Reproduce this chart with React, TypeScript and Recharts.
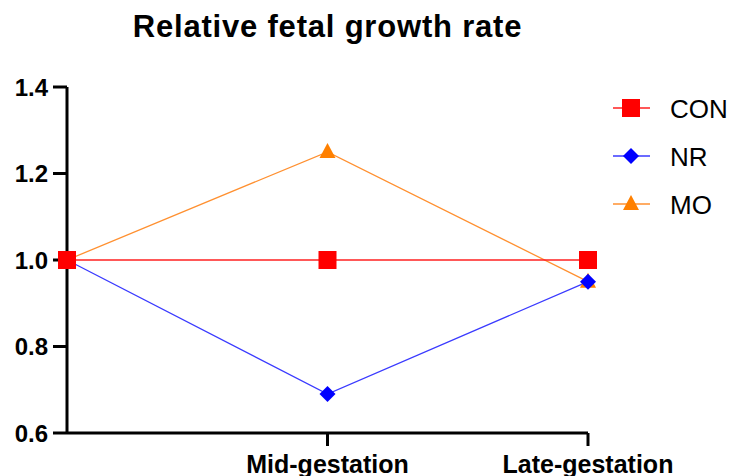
import React from 'react';
import { LineChart, Line, XAxis, YAxis } from 'recharts';

const categories = ['', 'Mid-gestation', 'Late-gestation'];
const conValues = [1.0, 1.0, 1.0];
const nrValues = [1.0, 0.69, 0.95];
const moValues = [1.0, 1.25, 0.95];
const yTicks = [0.6, 0.8, 1.0, 1.2, 1.4];

const FONT = 'Liberation Sans, Arial, sans-serif';

const seriesInfo = [
    { key: 'CON', color: '#ff0000', lineColor: '#ff2020', shape: 'square' },
    { key: 'NR', color: '#0000ff', lineColor: '#3a3aff', shape: 'diamond' },
    { key: 'MO', color: '#ff8000', lineColor: '#ff9030', shape: 'triangle' },
];

const data = categories.map((name, i) => ({
    x: i,
    name,
    CON: conValues[i],
    NR: nrValues[i],
    MO: moValues[i],
}));

const Marker = ({ cx, cy, shape, color }: { cx: number, cy: number, shape: string, color: string }) => {
    if (shape === 'square') {
        return <rect x={cx - 9} y={cy - 9} width={18} height={18} fill={color} />;
    }
    if (shape === 'diamond') {
        return <polygon points={`${cx},${cy - 8} ${cx + 8},${cy} ${cx},${cy + 8} ${cx - 8},${cy}`} fill={color} />;
    }
    return <polygon points={`${cx},${cy - 9} ${cx + 8},${cy + 6} ${cx - 8},${cy + 6}`} fill={color} />;
};

const makeDot = (shape: string, color: string) => (props: any) => {
    const { cx, cy, index } = props;
    if (cx == null || cy == null) return <g key={index} />;
    return <Marker key={index} cx={cx} cy={cy} shape={shape} color={color} />;
};

// legend drawn by hand so it doesn't eat into the plot area
const LegendBox = () => (
    <svg width={131} height={140} style={{ position: 'absolute', left: 600, top: 90 }}>
        {seriesInfo.map((s, i) => {
            const y = 18 + i * 48;
            return (
                <g key={s.key}>
                    <line x1={13} x2={50} y1={y} y2={y} stroke={s.lineColor} strokeWidth={1.5} />
                    <Marker cx={31} cy={y} shape={s.shape} color={s.color} />
                    <text x={70} y={y + 10} fontSize={26} fontFamily={FONT} fill="#000">{s.key}</text>
                </g>
            );
        })}
    </svg>
);

const App = () => {
    const order = [seriesInfo[2], seriesInfo[1], seriesInfo[0]];
    return (
        <div style={{ position: 'fixed', left: 0, top: 0, width: 731, height: 476, background: '#fff', overflow: 'hidden' }}>
            <div style={{
                position: 'absolute', left: 0, top: 10, width: 655, textAlign: 'center', lineHeight: '34px',
                fontFamily: FONT, fontWeight: 'bold', fontSize: 31, letterSpacing: 0.8, color: '#000'
            }}>
                Relative fetal growth rate
            </div>
            <LineChart width={731} height={476} data={data} margin={{ top: 87, right: 143, left: 0, bottom: 0 }}>
                <XAxis
                    dataKey="x"
                    type="number"
                    domain={[0, 2]}
                    ticks={[1, 2]}
                    tickFormatter={(v: number) => categories[v]}
                    height={43}
                    stroke="#000"
                    strokeWidth={3}
                    tickSize={13}
                    tickMargin={9}
                    tick={{ fill: '#000', fontSize: 25, fontWeight: 'bold', fontFamily: FONT }}
                />
                <YAxis
                    type="number"
                    domain={[0.6, 1.4]}
                    ticks={yTicks}
                    tickFormatter={(v: number) => v.toFixed(1)}
                    width={67}
                    stroke="#000"
                    strokeWidth={3}
                    tickSize={14}
                    tickMargin={5}
                    tick={{ fill: '#000', fontSize: 24, fontWeight: 'bold', fontFamily: FONT }}
                />
                {order.map((s) => (
                    <Line
                        key={s.key}
                        dataKey={s.key}
                        type="linear"
                        stroke={s.lineColor}
                        strokeWidth={1.3}
                        dot={makeDot(s.shape, s.color)}
                        activeDot={false}
                        isAnimationActive={false}
                    />
                ))}
            </LineChart>
            <LegendBox />
        </div>
    );
};

export default App;
